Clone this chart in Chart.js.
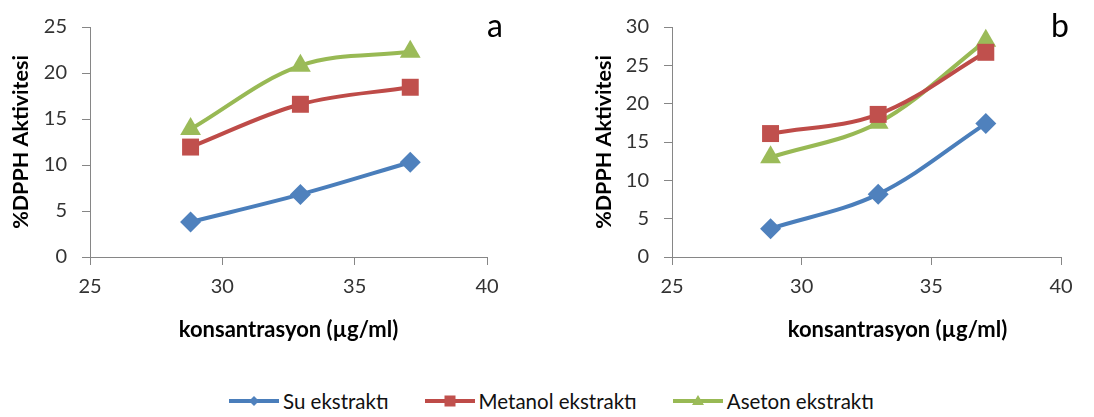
<!DOCTYPE html>
<html>
<head>
<meta charset="utf-8">
<script src="https://cdn.jsdelivr.net/npm/chart.js@4/dist/chart.umd.min.js"></script>
<style>
  html, body { margin: 0; padding: 0; background: #fff; }
  body { width: 1094px; height: 417px; position: relative; overflow: hidden; font-family: Lato, "Open Sans", sans-serif; }
  .panel { position: absolute; top: 0; height: 360px; }
  #panelA { left: 0; width: 545px; }
  #panelB { left: 583px; width: 511px; }
  #legend { position: absolute; left: 229px; top: 390px; height: 22px; display: flex; align-items: center; font-size: 20.5px; color: #111; }
  .item { display: flex; align-items: center; margin-right: 36px; }
  .item svg { margin-right: 4px; }
</style>
</head>
<body>
<div class="panel" id="panelA"><canvas id="chartA"></canvas></div>
<div class="panel" id="panelB"><canvas id="chartB"></canvas></div>
<div id="legend"></div>
<script>
// Concentrations (µg/ml) shared by both panels
const konsantrasyon = [28.8, 32.95, 37.1];

// Series names
const seriesNames = ['Su ekstraktı', 'Metanol ekstraktı', 'Aseton ekstraktı'];

// Panel a: %DPPH activity
const suA      = [3.8, 6.8, 10.3];
const metanolA = [11.95, 16.6, 18.45];
const asetonA  = [13.9, 20.8, 22.3];

// Panel b: %DPPH activity
const suB      = [3.7, 8.2, 17.4];
const metanolB = [16.1, 18.6, 26.7];
const asetonB  = [13.0, 17.5, 28.2];

// Axis ticks
const xTicks = [25, 30, 35, 40];
const yTicksA = [0, 5, 10, 15, 20, 25];
const yTicksB = [0, 5, 10, 15, 20, 25, 30];

const xTitle = 'konsantrasyon (µg/ml)';
const yTitle = '%DPPH Aktivitesi';

const styles = [
  { line: '#4A7EBB', fill: '#4F81BD', pointStyle: 'rectRot', radius: 10.5 },
  { line: '#BE4B48', fill: '#C0504D', pointStyle: 'rect', radius: 12 },
  { line: '#98B954', fill: '#9BBB59', pointStyle: 'triangle', radius: 12 }
];

const FONT = 'Lato';

// Draws the x-axis caption and the panel letter
const captions = {
  id: 'captions',
  afterDraw(chart, args, opts) {
    const { ctx, chartArea } = chart;
    ctx.save();
    ctx.fillStyle = '#000';
    ctx.textAlign = 'center';
    ctx.textBaseline = 'middle';
    ctx.font = 'bold 22px ' + FONT;
    ctx.fillText(opts.xTitle, (chartArea.left + chartArea.right) / 2 + opts.xTitleShift, opts.xTitleY);
    ctx.font = '32px ' + FONT;
    ctx.fillText(opts.letter, opts.letterX, opts.letterY);
    ctx.restore();
  }
};

function makeDatasets(seriesList) {
  return seriesList.map((values, i) => ({
    label: seriesNames[i],
    data: values.map((v, k) => ({ x: konsantrasyon[k], y: v })),
    borderColor: styles[i].line,
    backgroundColor: styles[i].fill,
    pointBackgroundColor: styles[i].fill,
    pointBorderColor: styles[i].fill,
    pointBorderWidth: 0,
    pointStyle: styles[i].pointStyle,
    pointRadius: styles[i].radius,
    pointHoverRadius: styles[i].radius,
    borderWidth: 4,
    tension: 0.35,
    fill: false
  }));
}

function makeChart(id, seriesList, yTicks, cfg) {
  const yMax = yTicks[yTicks.length - 1];
  return new Chart(document.getElementById(id), {
    type: 'line',
    data: { datasets: makeDatasets(seriesList) },
    options: {
      responsive: true,
      maintainAspectRatio: false,
      animation: false,
      layout: { padding: { left: 0, right: cfg.padRight, top: 25, bottom: 0 } },
      plugins: {
        legend: { display: false },
        tooltip: { enabled: false },
        captions: cfg.captions
      },
      scales: {
        x: {
          type: 'linear',
          min: xTicks[0],
          max: xTicks[xTicks.length - 1],
          afterBuildTicks: s => { s.ticks = xTicks.map(v => ({ value: v })); },
          afterFit: s => { s.height = 103; },
          border: { color: '#868686', width: 1 },
          grid: { drawOnChartArea: false, drawTicks: true, tickLength: 8, color: '#868686' },
          ticks: { color: '#333', padding: 10, font: { family: FONT, size: 20 } }
        },
        y: {
          min: 0,
          max: yMax,
          afterBuildTicks: s => { s.ticks = yTicks.map(v => ({ value: v })); },
          afterFit: s => { s.width = cfg.yWidth; },
          border: { color: '#868686', width: 1 },
          grid: { drawOnChartArea: false, drawTicks: true, tickLength: 8, color: '#868686' },
          ticks: { color: '#333', padding: 15, font: { family: FONT, size: 20 } },
          title: { display: true, text: yTitle, color: '#000', padding: 8, font: { family: FONT, size: 21.5, weight: 'bold' } }
        }
      }
    },
    plugins: [captions]
  });
}

makeChart('chartA', [suA, metanolA, asetonA], yTicksA, {
  padRight: 58, yWidth: 90,
  captions: { xTitle: xTitle, xTitleShift: 0, xTitleY: 330, letter: 'a', letterX: 495, letterY: 27 }
});

makeChart('chartB', [suB, metanolB, asetonB], yTicksB, {
  padRight: 33, yWidth: 89,
  captions: { xTitle: xTitle, xTitleShift: 31, xTitleY: 330, letter: 'b', letterX: 477, letterY: 27 }
});

// Legend built from the series names and styles
const legend = document.getElementById('legend');
const markerSvg = {
  rectRot: c => `<polygon points="25,6 30,11 25,16 20,11" fill="${c}"/>`,
  rect: c => `<rect x="19.5" y="5.5" width="11" height="11" fill="${c}"/>`,
  triangle: c => `<polygon points="25,5 31,15 19,15" fill="${c}"/>`
};
seriesNames.forEach((name, i) => {
  const st = styles[i];
  const item = document.createElement('div');
  item.className = 'item';
  item.innerHTML =
    `<svg width="50" height="22" viewBox="0 0 50 22">` +
    `<line x1="0" y1="11" x2="50" y2="11" stroke="${st.line}" stroke-width="4" stroke-linecap="round"/>` +
    markerSvg[st.pointStyle](st.fill) +
    `</svg><span>${name}</span>`;
  legend.appendChild(item);
});
</script>
</body>
</html>
